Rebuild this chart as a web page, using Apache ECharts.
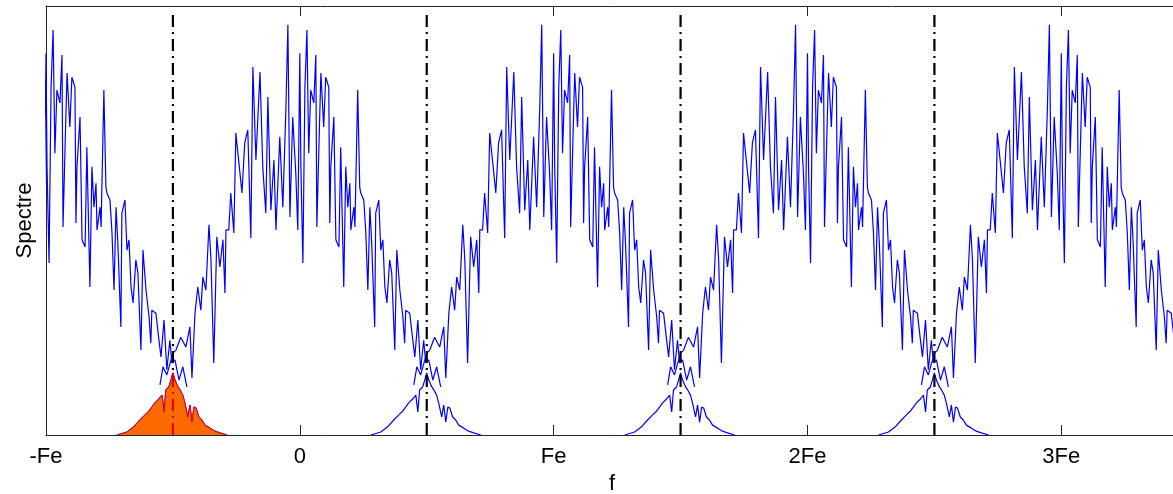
<!DOCTYPE html>
<html>
<head>
<meta charset="utf-8">
<script src="https://cdn.jsdelivr.net/npm/echarts@6/dist/echarts.min.js"></script>
<style>
html,body{margin:0;padding:0;background:#fff;}
#chart{width:1173px;height:494px;}
</style>
</head>
<body>
<div id="chart"></div>
<script>
// Tick positions (in units of Fe) and their labels
const tickValues = [-1, 0, 1, 2, 3];
const tickLabels = ['-Fe', '0', 'Fe', '2Fe', '3Fe'];

// Centres of the periodic (sampled) spectrum lobes, in Fe
const lobeCenters = [-1, 0, 1, 2, 3];
// Centres of the narrow original-spectrum replicas, in Fe
const replicaCenters = [-0.5, 0.5, 1.5, 2.5];
const filledCenter = -0.5;
// Positions of the dash-dot boundary lines, in Fe
const aliasLines = [-0.5, 0.5, 1.5, 2.5];

// One lobe of the sampled spectrum: frequency offset from lobe centre (Fe) and magnitude (0-100)
const mainOffsets = [
 -0.551,-0.539,-0.524,-0.500,-0.488,-0.469,-0.449,-0.433,-0.425,-0.413,-0.402,-0.390,
 -0.382,-0.370,-0.358,-0.350,-0.339,-0.327,-0.315,-0.303,-0.295,-0.291,-0.280,-0.272,-0.260,-0.252,
 -0.236,-0.228,-0.217,-0.205,-0.193,-0.185,-0.173,-0.157,-0.146,-0.134,-0.126,-0.114,-0.102,-0.094,
 -0.079,-0.067,-0.055,-0.047,-0.039,-0.028,-0.016,-0.008,0.000,
 0.004,0.012,0.020,0.028,0.035,0.043,0.055,0.063,0.067,0.079,0.083,0.094,0.102,0.114,0.118,0.122,
 0.134,0.142,0.154,0.161,0.173,0.181,0.189,0.197,0.201,0.213,0.217,0.228,0.236,0.240,0.252,0.260,
 0.268,0.276,0.283,0.295,0.299,0.311,0.319,0.327,0.335,0.343,0.354,0.362,0.374,0.382,0.394,0.406,
 0.413,0.417,0.433,0.445,0.453,0.465,0.476,0.488,0.496,0.508,0.524,0.539,0.555
];
const mainValues = [
 11.7,15.9,14.0,19.1,19.8,22.8,20.5,25.2,13.3,28.4,34.5,29.1,
 36.8,33.8,49.0,40.8,16.8,46.2,39.2,45.5,33.1,47.8,47.8,56.4,47.1,70.4,
 61.1,56.4,68.1,71.1,45.9,85.8,64.1,84.6,62.5,51.7,78.8,52.4,64.1,47.8,
 69.5,53.1,75.8,95.6,50.8,74.1,61.1,47.8,89.0,
 62.9,40.1,81.1,94.4,65.7,80.4,77.4,88.6,48.5,75.8,84.4,71.8,83.4,81.1,49.4,62.5,
 74.1,45.5,43.8,67.1,34.5,62.5,53.1,58.7,47.8,53.1,48.5,80.4,57.8,56.4,54.8,47.1,
 33.8,53.1,44.8,25.2,51.7,54.8,43.1,45.5,34.5,30.8,40.8,37.8,19.8,43.1,33.8,27.5,
 21.4,29.1,28.4,22.1,18.2,26.8,15.2,22.1,16.8,17.5,12.8,15.9,11.2
];

// Narrow original spectrum: offset from its centre (Fe) and magnitude (0-100)
const smallOffsets = [
 -0.220,-0.213,-0.181,-0.154,-0.130,-0.110,-0.094,-0.083,-0.071,-0.055,-0.043,-0.035,-0.028,-0.016,-0.008,0.000,
 0.008,0.020,0.028,0.039,0.047,0.059,0.067,0.075,0.083,0.091,0.102,0.114,0.126,0.146,0.165,0.185,0.213
];
const smallValues = [
 0.0,0.2,0.7,1.9,3.5,4.7,5.6,6.5,7.5,8.4,9.3,5.4,10.5,11.2,12.8,14.5,
 12.8,11.2,10.5,9.3,7.5,4.2,7.0,3.0,6.5,6.3,4.2,3.5,2.3,1.6,0.9,0.5,0.0
];

const xMin = -1, xMax = 3.44, yMin = 0, yMax = 100;
const aliasLineTop = 98.5;

const chart = echarts.init(document.getElementById('chart'), null, {renderer: 'canvas'});

function shifted(offsets, values, c) {
  return offsets.map((o, i) => [c + o, values[i]]);
}

const series = [];
lobeCenters.forEach(c => {
  series.push({
    type: 'line', data: shifted(mainOffsets, mainValues, c),
    showSymbol: false, symbol: 'none', clip: true, z: 2, silent: true,
    lineStyle: {color: '#0000ff', width: 1.2}
  });
});
replicaCenters.forEach(c => {
  series.push({
    type: 'line', data: shifted(smallOffsets, smallValues, c),
    showSymbol: false, symbol: 'none', clip: true, z: 2, silent: true,
    lineStyle: {color: '#0000ff', width: 1.2}
  });
});
aliasLines.forEach(v => {
  series.push({
    type: 'line', data: [[v, yMin], [v, aliasLineTop]],
    showSymbol: false, symbol: 'none', z: 3, silent: true,
    lineStyle: {color: '#000000', width: 2.2, type: [12, 5, 2, 5]}
  });
});
// filled original spectrum
series.push({
  type: 'line', data: shifted(smallOffsets, smallValues, filledCenter),
  showSymbol: false, symbol: 'none', z: 4, silent: true,
  lineStyle: {color: '#e8000b', width: 1},
  areaStyle: {color: '#ff6a00', opacity: 1}
});
series.push({
  type: 'line', data: [[filledCenter, yMin], [filledCenter, Math.max(...smallValues)]],
  showSymbol: false, symbol: 'none', z: 5, silent: true,
  lineStyle: {color: '#e00000', width: 2, type: [12, 5, 2, 5]}
});

const labelMap = {};
tickValues.forEach((v, i) => labelMap[v] = tickLabels[i]);

chart.setOption({
  animation: false,
  backgroundColor: '#ffffff',
  grid: {left: 46, right: 0, top: 6, bottom: 59, containLabel: false},
  xAxis: [{
    type: 'value', min: xMin, max: xMax, interval: 1, position: 'bottom',
    axisLine: {show: true, onZero: false, lineStyle: {color: '#262626', width: 1}},
    axisTick: {show: true, inside: true, length: 10, lineStyle: {color: '#262626'}},
    axisLabel: {
      show: true, margin: 11, color: '#000', fontSize: 22, fontFamily: 'Liberation Sans, Arial, sans-serif',
      formatter: v => (labelMap[v] !== undefined ? labelMap[v] : ''),
      showMaxLabel: false
    },
    splitLine: {show: false}
  }, {
    type: 'value', min: xMin, max: xMax, interval: 1, position: 'top',
    axisLine: {show: true, onZero: false, lineStyle: {color: '#262626', width: 1}},
    axisTick: {show: true, inside: true, length: 10, lineStyle: {color: '#262626'}},
    axisLabel: {show: false},
    splitLine: {show: false}
  }],
  yAxis: {
    type: 'value', min: yMin, max: yMax,
    name: 'Spectre', nameLocation: 'middle', nameRotate: 90, nameGap: 10,
    nameTextStyle: {color: '#000', fontSize: 22, fontFamily: 'Liberation Sans, Arial, sans-serif'},
    axisLine: {show: true, onZero: false, lineStyle: {color: '#262626', width: 1}},
    axisTick: {show: false},
    axisLabel: {show: false},
    splitLine: {show: false}
  },
  graphic: [{
    type: 'text', left: 609, top: 473,
    style: {text: 'f', fill: '#000', font: '22px "Liberation Sans", Arial, sans-serif'}
  }],
  series: series
});
</script>
</body>
</html>
